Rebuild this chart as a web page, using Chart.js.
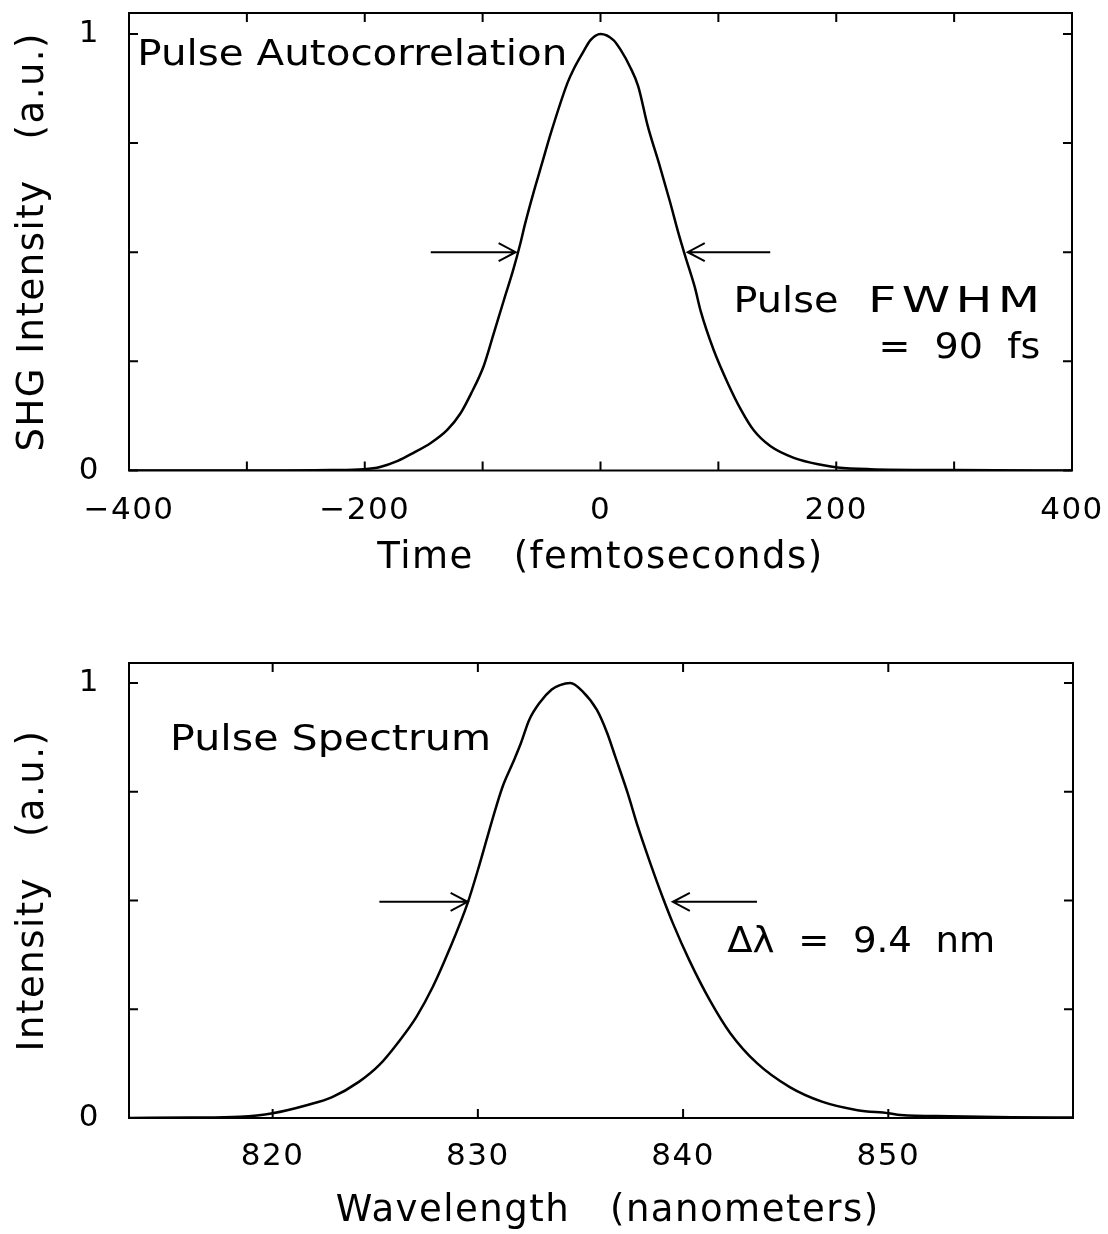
<!DOCTYPE html>
<html>
<head>
<meta charset="utf-8">
<script src="https://cdn.jsdelivr.net/npm/chart.js@4.4.1/dist/chart.umd.min.js"></script>
<style>
  body { margin: 0; background: #fff; }
  .box { position: absolute; left: 0; width: 1108px; height: 617px; }
</style>
</head>
<body>
<div class="box" style="top:0"><canvas id="autoGraph"></canvas></div>
<div class="box" style="top:617px"><canvas id="specGraph"></canvas></div>
<script>
// Pulse autocorrelation trace
const timeFs = [-400, -300, -229, -201, -187, -172, -159, -144, -130, -119, -110, -99, -91, -82, -74, -68, -64, -57, -50, -42, -28, -23, -15, -8.5, 0, 11, 17, 25, 32, 40, 50, 59, 66, 72, 80, 85, 96, 108, 119, 130, 144, 164, 187, 201, 229, 300, 400];
const shgIntensity = [0, 0, 0.001, 0.003, 0.008, 0.022, 0.040, 0.063, 0.093, 0.13, 0.175, 0.24, 0.31, 0.39, 0.46, 0.52, 0.565, 0.635, 0.70, 0.774, 0.888, 0.918, 0.957, 0.986, 1.0, 0.986, 0.964, 0.925, 0.88, 0.79, 0.70, 0.615, 0.545, 0.49, 0.42, 0.365, 0.276, 0.20, 0.14, 0.092, 0.056, 0.029, 0.013, 0.007, 0.003, 0.001, 0];

// Pulse spectrum
const wavelengthNm = [813, 816, 818.4, 820, 821.7, 822.9, 824.2, 825.2, 826.2, 827.0, 827.8, 828.6, 829.5, 830.1, 830.7, 831.2, 831.7, 832.1, 832.5, 833.0, 833.6, 834.0, 834.5, 835.1, 835.8, 836.3, 836.7, 837.3, 837.8, 838.4, 839.0, 839.5, 840.3, 841.3, 842.3, 843.6, 845.2, 846.8, 848.5, 850.0, 850.6, 853, 856, 859];
const specIntensity = [0, 0.001, 0.003, 0.011, 0.030, 0.048, 0.083, 0.122, 0.179, 0.232, 0.301, 0.386, 0.494, 0.586, 0.685, 0.761, 0.816, 0.862, 0.915, 0.954, 0.985, 0.995, 1.0, 0.981, 0.938, 0.885, 0.83, 0.747, 0.669, 0.586, 0.508, 0.448, 0.363, 0.271, 0.195, 0.126, 0.071, 0.037, 0.018, 0.011, 0.007, 0.004, 0.002, 0.001];

// labelled ticks (the other ticks are drawn unlabelled)
const timeLabels = [-400, -200, 0, 200, 400];
const wavelengthLabels = [820, 830, 840, 850];
const intensityLabels = [0, 1];

Chart.defaults.font.family = '"DejaVu Sans", sans-serif';
Chart.defaults.color = '#000';

// frame box with inward ticks on all four sides, plus text notes and arrows
const framePlugin = {
    id: 'frame',
    beforeDraw(chart) {
        chart.ctx.letterSpacing = '1.5px';
    },
    afterDatasetsDraw(chart, args, opts) {
        const { ctx, chartArea: a, scales } = chart;
        ctx.save();
        ctx.strokeStyle = '#000';
        ctx.lineWidth = 2;
        ctx.strokeRect(a.left, a.top, a.right - a.left, a.bottom - a.top);
        const t = 9;
        ctx.beginPath();
        scales.x.ticks.forEach(tk => {
            const px = scales.x.getPixelForValue(tk.value);
            ctx.moveTo(px, a.bottom); ctx.lineTo(px, a.bottom - t);
            ctx.moveTo(px, a.top); ctx.lineTo(px, a.top + t);
        });
        scales.y.ticks.forEach(tk => {
            const py = scales.y.getPixelForValue(tk.value);
            ctx.moveTo(a.left, py); ctx.lineTo(a.left + t, py);
            ctx.moveTo(a.right, py); ctx.lineTo(a.right - t, py);
        });
        ctx.stroke();

        // arrows pointing at the half maximum
        (opts.arrows || []).forEach(ar => {
            const x0 = scales.x.getPixelForValue(ar.from);
            const x1 = scales.x.getPixelForValue(ar.to);
            const y = scales.y.getPixelForValue(ar.y);
            const dir = x1 > x0 ? 1 : -1;
            ctx.beginPath();
            ctx.moveTo(x0, y); ctx.lineTo(x1, y);
            ctx.moveTo(x1 - dir * 17, y - 9); ctx.lineTo(x1, y); ctx.lineTo(x1 - dir * 17, y + 9);
            ctx.stroke();
        });

        // text notes, widened to the width they take in the figure
        ctx.fillStyle = '#000';
        ctx.font = '35px "DejaVu Sans", sans-serif';
        ctx.textAlign = 'left';
        ctx.textBaseline = 'alphabetic';
        (opts.notes || []).forEach(n => {
            ctx.letterSpacing = '0px';
            const w0 = ctx.measureText(n.text).width;
            const sx = Math.min(n.width / w0, 1.4);
            const extra = n.width / sx - w0;
            ctx.letterSpacing = (n.text.length > 1 ? extra / (n.text.length - 1) : 0) + 'px';
            ctx.save();
            ctx.translate(scales.x.getPixelForValue(n.x), scales.y.getPixelForValue(n.y));
            ctx.scale(sx, 1);
            ctx.fillText(n.text, 0, 0);
            ctx.restore();
        });
        ctx.restore();
    }
};

function fmt(v) {
    return v < 0 ? '\u2212' + Math.abs(v) : String(v);
}

function noPad(s) {
    s.paddingLeft = 0; s.paddingRight = 0; s.paddingTop = 0; s.paddingBottom = 0;
}

function makeGraph(id, xs, ys, cfg) {
    const ctx = document.getElementById(id).getContext('2d');
    return new Chart(ctx, {
        type: 'line',
        data: {
            datasets: [{
                data: xs.map((x, i) => ({ x: x, y: ys[i] })),
                borderColor: '#000',
                borderWidth: 2.5,
                pointRadius: 0,
                fill: false,
                cubicInterpolationMode: 'monotone'
            }]
        },
        options: {
            responsive: true,
            maintainAspectRatio: false,
            animation: false,
            layout: { autoPadding: false, padding: cfg.padding },
            plugins: {
                legend: { display: false },
                tooltip: { enabled: false },
                frame: { notes: cfg.notes, arrows: cfg.arrows }
            },
            scales: {
                x: {
                    type: 'linear',
                    min: cfg.xMin,
                    max: cfg.xMax,
                    grid: { display: false },
                    border: { display: false },
                    ticks: {
                        stepSize: cfg.xStep,
                        includeBounds: false,
                        autoSkip: false,
                        maxRotation: 0,
                        padding: cfg.xTickPad,
                        font: { size: 31 },
                        callback: v => cfg.xLabels.includes(v) ? fmt(v) : ''
                    },
                    title: {
                        display: true,
                        text: cfg.xTitle,
                        font: { size: 37 },
                        padding: { top: 0, bottom: cfg.xTitlePad }
                    },
                    afterFit: s => { s.height = cfg.xHeight; noPad(s); }
                },
                y: {
                    type: 'linear',
                    min: 0,
                    max: cfg.yMax,
                    grid: { display: false },
                    border: { display: false },
                    ticks: {
                        stepSize: 0.25,
                        includeBounds: false,
                        autoSkip: false,
                        padding: 21,
                        font: { size: 31 },
                        callback: v => intensityLabels.includes(v) ? String(v) : ''
                    },
                    title: {
                        display: true,
                        text: cfg.yTitle,
                        font: { size: 37 },
                        padding: { top: 11, bottom: 0 }
                    },
                    afterFit: s => { s.width = 129; noPad(s); }
                }
            }
        },
        plugins: [framePlugin]
    });
}

makeGraph('autoGraph', timeFs, shgIntensity, {
    padding: { top: 13, right: 36, left: 0, bottom: 0 },
    xMin: -400, xMax: 400, xStep: 100, xLabels: timeLabels,
    xTickPad: 14, xHeight: 146.5, xTitlePad: 36,
    yMax: 1.048,
    xTitle: 'Time   (femtoseconds)',
    yTitle: 'SHG Intensity   (a.u.)',
    notes: [
        { text: 'Pulse Autocorrelation', x: -393, y: 0.93, width: 430 },
        { text: 'Pulse', x: 112.8, y: 0.364, width: 105 },
        { text: 'FWHM', x: 227, y: 0.364, width: 172 },
        { text: '=  90  fs', x: 235.8, y: 0.258, width: 162 }
    ],
    arrows: [
        { from: -144, to: -72, y: 0.5 },
        { from: 144, to: 74, y: 0.5 }
    ]
});

makeGraph('specGraph', wavelengthNm, specIntensity, {
    padding: { top: 46, right: 35, left: 0, bottom: 0 },
    xMin: 813, xMax: 859, xStep: 10, xLabels: wavelengthLabels,
    xTickPad: 12, xHeight: 116, xTitlePad: 0,
    yMax: 1.046,
    xTitle: ' Wavelength   (nanometers)',
    yTitle: 'Intensity   (a.u.)',
    notes: [
        { text: 'Pulse Spectrum', x: 815.0, y: 0.846, width: 321 },
        { text: '\u0394\u03bb  =  9.4  nm', x: 842.15, y: 0.382, width: 268 }
    ],
    arrows: [
        { from: 825.2, to: 829.5, y: 0.497 },
        { from: 843.6, to: 839.5, y: 0.497 }
    ]
});
</script>
</body>
</html>
